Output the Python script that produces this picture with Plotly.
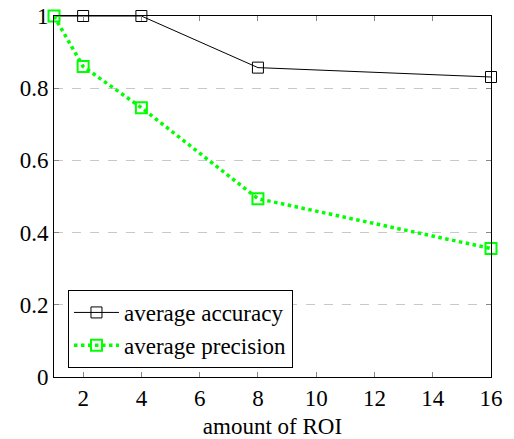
import plotly.graph_objects as go

roi = [1, 2, 4, 8, 16]
avg_accuracy = [1.0, 1.0, 1.0, 0.857, 0.831]
avg_precision = [1.0, 0.86, 0.746, 0.494, 0.356]
y_ticks = [0, 0.2, 0.4, 0.6, 0.8, 1]
y_labels = ["0", "0.2", "0.4", "0.6", "0.8", "1"]
x_ticks = [2, 4, 6, 8, 10, 12, 14, 16]

FONT = "Liberation Serif"
FS = 23

fig = go.Figure()
fig.add_trace(go.Scatter(
    x=roi, y=avg_accuracy, name="average accuracy", mode="lines+markers",
    line=dict(color="black", width=1),
    marker=dict(symbol="square-open", size=11, color="black", line=dict(width=1)),
    cliponaxis=False,
))
fig.add_trace(go.Scatter(
    x=roi, y=avg_precision, name="average precision", mode="lines+markers",
    line=dict(color="#00ff00", width=3.5, dash="dot"),
    marker=dict(symbol="square-open", size=11, color="#00ff00", line=dict(width=2)),
    cliponaxis=False,
))

fig.update_layout(
    width=514, height=439,
    margin=dict(l=46, r=31, t=8, b=70),
    plot_bgcolor="white", paper_bgcolor="white",
    font=dict(family=FONT, size=FS, color="black"),
    legend=dict(
        x=0.032, y=0.025, xanchor="left", yanchor="bottom",
        bordercolor="black", borderwidth=1, bgcolor="white",
        font=dict(family=FONT, size=FS),
        tracegroupgap=0, itemwidth=45,
    ),
    xaxis=dict(
        range=[1, 16], tickvals=x_ticks, ticks="inside", ticklen=5,
        tickcolor="#888", showline=True, linecolor="black", linewidth=1,
        mirror="allticks", showgrid=False, zeroline=False, automargin=False,
        title=dict(text="amount of ROI", font=dict(family=FONT, size=FS), standoff=8),
        tickfont=dict(family=FONT, size=FS), ticklabeloverflow="allow",
    ),
    yaxis=dict(
        range=[0, 1], tickvals=y_ticks, ticktext=y_labels, ticks="inside", ticklen=5,
        tickcolor="#888", showline=True, linecolor="black", linewidth=1,
        mirror="allticks", showgrid=True, gridcolor="#c8c8c8", griddash="dash",
        zeroline=False, automargin=False,
        tickfont=dict(family=FONT, size=FS), ticklabeloverflow="allow",
    ),
)

fig.write_html("out.html")
